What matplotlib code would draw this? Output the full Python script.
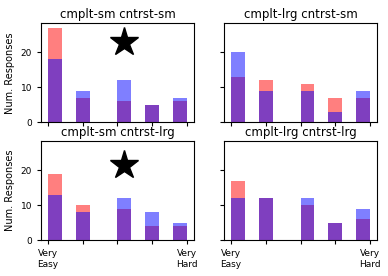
import matplotlib
matplotlib.use("Agg")
import matplotlib.pyplot as plt

levels = [1, 2, 3, 4, 5]
tick_labels = ["Very\nEasy", "", "", "", "Very\nHard"]
titles = ["cmplt-sm cntrst-sm", "cmplt-lrg cntrst-sm",
          "cmplt-sm cntrst-lrg", "cmplt-lrg cntrst-lrg"]

red_tl = [27, 7, 6, 5, 6]
blue_tl = [18, 9, 12, 5, 7]
red_tr = [13, 12, 11, 7, 7]
blue_tr = [20, 9, 9, 3, 9]
red_bl = [19, 10, 9, 4, 4]
blue_bl = [13, 8, 12, 8, 5]
red_br = [17, 12, 10, 5, 6]
blue_br = [12, 12, 12, 5, 9]

star_x = [3.2, 3.2]
star_y = [22.9, 21.4]

reds = [red_tl, red_tr, red_bl, red_br]
blues = [blue_tl, blue_tr, blue_bl, blue_br]

fig, axes = plt.subplots(2, 2, sharex=True, sharey=True, figsize=(3.88, 2.76), dpi=100)
fig.subplots_adjust(left=0.1057, right=0.9716, top=0.9156, bottom=0.1293,
                    wspace=0.198, hspace=0.189)

for i, ax in enumerate(axes.flat):
    ax.hist(levels, bins=10, range=(1, 5), weights=reds[i], color="red", alpha=0.5)
    ax.hist(levels, bins=10, range=(1, 5), weights=blues[i], color="blue", alpha=0.5)
    ax.set_title(titles[i], fontsize=8.5, pad=4)
    ax.tick_params(labelsize=6.5, length=3)
    if i % 2 == 0:
        ax.set_ylabel("Num. Responses", fontsize=7)
        ax.plot(star_x[i // 2], star_y[i // 2], marker="*", color="black",
                markersize=21, linestyle="none")

axes[1, 0].set_xticks(levels)
axes[1, 0].set_xticklabels(tick_labels)
axes[1, 1].set_xticklabels(tick_labels)
axes[0, 0].set_yticks([0, 10, 20])

fig.savefig("out.png", dpi=100)
